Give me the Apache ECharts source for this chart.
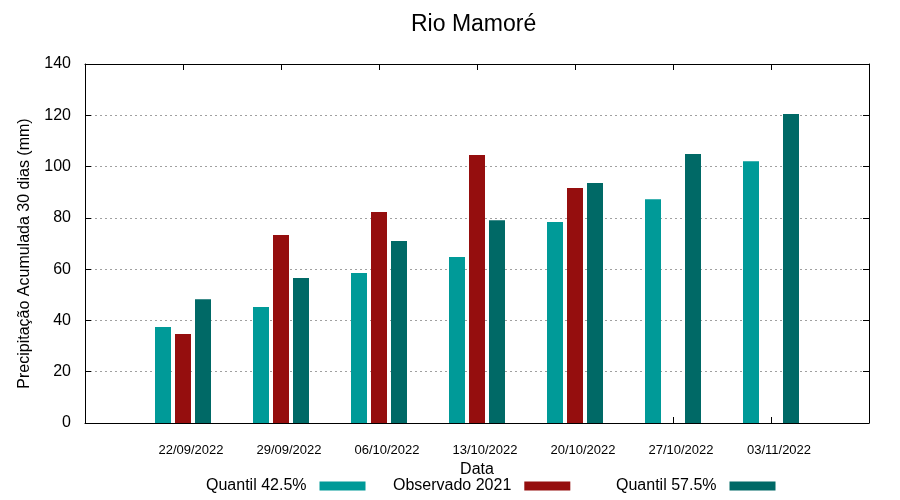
<!DOCTYPE html>
<html>
<head>
<meta charset="utf-8">
<script src="https://cdn.jsdelivr.net/npm/echarts@6/dist/echarts.min.js"></script>
<style>html,body{margin:0;padding:0;background:#fff}#c{width:900px;height:500px}</style>
</head>
<body>
<div id="c"></div>
<script>
const dates = ['22/09/2022','29/09/2022','06/10/2022','13/10/2022','20/10/2022','27/10/2022','03/11/2022'];
const quantil425 = [37.4, 45.2, 58.5, 64.7, 78.4, 87.3, 102.1];
const observado2021 = [34.7, 73.3, 82.3, 104.5, 91.6, null, null];
const quantil575 = [48.3, 56.5, 71.0, 79.1, 93.6, 104.9, 120.5];
const yTicks = [0, 20, 40, 60, 80, 100, 120, 140];

const cats = [''].concat(dates, ['']);
const pad = a => [null].concat(a, [null]);
const FONT = 'Liberation Sans';

const chart = echarts.init(document.getElementById('c'), null, {renderer: 'canvas'});
const legendBase = {
  orient: 'horizontal', align: 'right', itemWidth: 46, itemHeight: 9, top: 478, padding: 0,
  icon: 'rect', selectedMode: false,
  textStyle: {fontFamily: FONT, fontSize: 16, color: '#000', padding: [0, 8, 0, 0]}
};
chart.setOption({
  animation: false,
  backgroundColor: '#fff',
  textStyle: {fontFamily: FONT},
  title: {
    text: 'Rio Mamoré', left: 411, top: 13, padding: 0,
    textStyle: {fontFamily: FONT, fontSize: 23, fontWeight: 'normal', color: '#000'}
  },
  legend: [
    Object.assign({}, legendBase, {left: 206, data: ['Quantil 42.5%']}),
    Object.assign({}, legendBase, {left: 393, data: ['Observado 2021']}),
    Object.assign({}, legendBase, {left: 616, data: ['Quantil 57.5%']})
  ],
  grid: {left: 85, right: 31, top: 64, bottom: 77, containLabel: false},
  xAxis: [{
    type: 'category', data: cats, boundaryGap: false, position: 'bottom',
    axisLine: {onZero: false, lineStyle: {color: '#000', width: 1}},
    axisTick: {show: true, inside: true, length: 6, lineStyle: {color: '#000'}},
    axisLabel: {fontFamily: FONT, fontSize: 13, color: '#000', margin: 21, padding: [0, 0, 0, 16], interval: 0},
    name: 'Data', nameLocation: 'middle', nameGap: 36,
    nameTextStyle: {fontFamily: FONT, fontSize: 16, color: '#000'},
    splitLine: {show: false}
  }, {
    type: 'category', data: cats, boundaryGap: false, position: 'top',
    axisLine: {onZero: false, lineStyle: {color: '#000', width: 1}},
    axisTick: {show: true, inside: true, length: 6, lineStyle: {color: '#000'}},
    axisLabel: {show: false}, splitLine: {show: false}
  }],
  yAxis: [{
    type: 'value', min: 0, max: 140, interval: 20, position: 'left',
    axisLine: {show: true, onZero: false, lineStyle: {color: '#000', width: 1}},
    axisTick: {show: true, inside: true, length: 6, lineStyle: {color: '#000'}},
    axisLabel: {fontFamily: FONT, fontSize: 16, color: '#000', margin: 14,
      formatter: v => yTicks.includes(v) ? String(v) : ''},
    splitLine: {show: true, lineStyle: {color: '#a0a0a0', type: [2, 3], width: 1}},
    name: 'Precipitação Acumulada 30 dias (mm)', nameLocation: 'middle', nameGap: 52,
    nameTextStyle: {fontFamily: FONT, fontSize: 16, color: '#000', padding: [0, 20, 0, 0]}
  }, {
    type: 'value', min: 0, max: 140, interval: 20, position: 'right',
    axisLine: {show: true, onZero: false, lineStyle: {color: '#000', width: 1}},
    axisTick: {show: true, inside: true, length: 6, lineStyle: {color: '#000'}},
    axisLabel: {show: false}, splitLine: {show: false}
  }],
  series: [
    {name: 'Quantil 42.5%', type: 'bar', data: pad(quantil425), barWidth: 16, barGap: '25%',
     itemStyle: {color: '#009a98'}, xAxisIndex: 0, yAxisIndex: 0},
    {name: 'Observado 2021', type: 'bar', data: pad(observado2021), barWidth: 16, barGap: '25%',
     itemStyle: {color: '#950e0e'}, xAxisIndex: 0, yAxisIndex: 0},
    {name: 'Quantil 57.5%', type: 'bar', data: pad(quantil575), barWidth: 16, barGap: '25%',
     itemStyle: {color: '#006966'}, xAxisIndex: 0, yAxisIndex: 0}
  ]
});
</script>
</body>
</html>
